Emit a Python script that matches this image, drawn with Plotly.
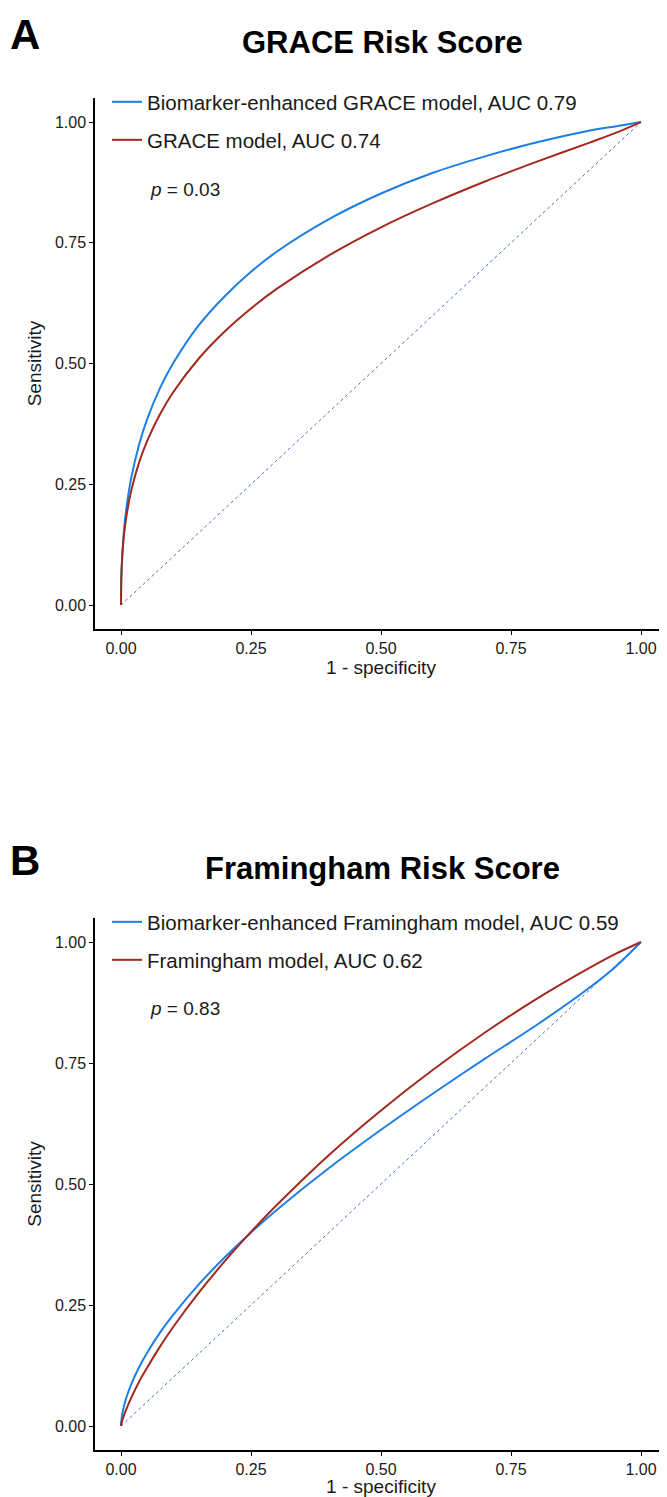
import plotly.graph_objects as go

# ---------------- data ----------------
tick_vals = [0, 0.25, 0.5, 0.75, 1.0]
tick_labels = ["0.00", "0.25", "0.50", "0.75", "1.00"]

fpr_grid = [0, 0.001, 0.005, 0.01, 0.02, 0.035, 0.05, 0.075, 0.1, 0.15, 0.2, 0.25, 0.3, 0.4, 0.5, 0.6, 0.7, 0.8, 0.9, 0.95, 1.0]

# Panel A - GRACE
grace_bio_tpr = [0, 0.07, 0.146, 0.197, 0.265, 0.333, 0.384, 0.449, 0.500, 0.580, 0.640, 0.690, 0.732, 0.799, 0.852, 0.895, 0.929, 0.958, 0.982, 0.991, 1.0]
grace_tpr = [0, 0.071, 0.137, 0.181, 0.238, 0.296, 0.339, 0.395, 0.440, 0.511, 0.567, 0.614, 0.655, 0.724, 0.782, 0.832, 0.877, 0.918, 0.957, 0.977, 1.0]

# Panel B - Framingham
fram_bio_tpr = [0, 0.014, 0.038, 0.058, 0.087, 0.122, 0.151, 0.193, 0.229, 0.293, 0.349, 0.400, 0.447, 0.533, 0.612, 0.687, 0.759, 0.829, 0.905, 0.948, 1.0]
fram_tpr = [0, 0.006, 0.020, 0.034, 0.059, 0.092, 0.120, 0.164, 0.204, 0.276, 0.341, 0.401, 0.457, 0.560, 0.652, 0.736, 0.813, 0.883, 0.946, 0.975, 1.0]

chance_line = [0, 1]

panel_titles = ["GRACE Risk Score", "Framingham Risk Score"]
panel_letters = ["A", "B"]
names_a = ["Biomarker-enhanced GRACE model, AUC 0.79", "GRACE model, AUC 0.74"]
names_b = ["Biomarker-enhanced Framingham model, AUC 0.59", "Framingham model, AUC 0.62"]
p_values = ["0.03", "0.83"]

# ---------------- styling ----------------
OFF = 8                      # default page margin of the html body
W, H = 667 - OFF, 1497 - OFF
BLUE = "#1C7FE6"
RED = "#A3291F"
DIAG = "#4A6FC0"
FONT = "Liberation Sans, Arial, sans-serif"
TXT = "#1a1a1a"


def py(p):
    return 1 - (p - OFF) / H


def px(p):
    return (p - OFF) / W


fig = go.Figure()
curve = dict(width=2, shape="spline", smoothing=0.8)

# panel A traces
fig.add_trace(go.Scatter(x=chance_line, y=chance_line, mode="lines",
                         line=dict(color=DIAG, width=1, dash="dot"),
                         showlegend=False, hoverinfo="skip", xaxis="x", yaxis="y"))
fig.add_trace(go.Scatter(x=fpr_grid, y=grace_bio_tpr, mode="lines", name=names_a[0],
                         line=dict(curve, color=BLUE), xaxis="x", yaxis="y", legend="legend"))
fig.add_trace(go.Scatter(x=fpr_grid, y=grace_tpr, mode="lines", name=names_a[1],
                         line=dict(curve, color=RED), xaxis="x", yaxis="y", legend="legend2"))

# panel B traces
fig.add_trace(go.Scatter(x=chance_line, y=chance_line, mode="lines",
                         line=dict(color=DIAG, width=1, dash="dot"),
                         showlegend=False, hoverinfo="skip", xaxis="x2", yaxis="y2"))
fig.add_trace(go.Scatter(x=fpr_grid, y=fram_bio_tpr, mode="lines", name=names_b[0],
                         line=dict(curve, color=BLUE), xaxis="x2", yaxis="y2", legend="legend3"))
fig.add_trace(go.Scatter(x=fpr_grid, y=fram_tpr, mode="lines", name=names_b[1],
                         line=dict(curve, color=RED), xaxis="x2", yaxis="y2", legend="legend4"))

axis_common = dict(
    showline=True, linecolor="black", linewidth=1.5, mirror=False,
    showgrid=False, zeroline=False, automargin=False,
    ticks="outside", ticklen=4, tickwidth=1.2, tickcolor="black",
    tickvals=tick_vals, ticktext=tick_labels,
    tickfont=dict(family=FONT, size=16, color=TXT),
    range=[-0.05, 1.05], fixedrange=True,
)

xa = dict(axis_common, domain=[px(95), 1.0],
          title=dict(text="1 - specificity", font=dict(family=FONT, size=19, color=TXT), standoff=4))
ya_title = dict(text="Sensitivity", font=dict(family=FONT, size=19, color=TXT), standoff=8)

leg_common = dict(bgcolor="rgba(0,0,0,0)", borderwidth=0,
                  font=dict(family=FONT, size=20.5, color=TXT),
                  xanchor="left", yanchor="middle", itemwidth=30)

fig.update_layout(
    width=W, height=H,
    margin=dict(l=0, r=0, t=0, b=0, autoexpand=False),
    paper_bgcolor="white", plot_bgcolor="white",
    xaxis=dict(xa, anchor="y"),
    yaxis=dict(axis_common, domain=[py(629.2), py(97.9)], anchor="x", title=ya_title),
    xaxis2=dict(xa, anchor="y2"),
    yaxis2=dict(axis_common, domain=[py(1450.2), py(917.8)], anchor="x2", title=ya_title),
    legend=dict(leg_common, x=px(107), y=py(102)),
    legend2=dict(leg_common, x=px(107), y=py(140)),
    legend3=dict(leg_common, x=px(107), y=py(922)),
    legend4=dict(leg_common, x=px(107), y=py(960)),
    showlegend=True,
)

annotations = []
for letter, title, ty, ly in [(panel_letters[0], panel_titles[0], 42, 35),
                              (panel_letters[1], panel_titles[1], 868, 860)]:
    annotations.append(dict(text="<b>" + title + "</b>", x=px(382), y=py(ty), xref="paper", yref="paper",
                            xanchor="center", yanchor="middle", showarrow=False,
                            font=dict(family=FONT, size=31, color="black")))
    annotations.append(dict(text="<b>" + letter + "</b>", x=px(8), y=py(ly), xref="paper", yref="paper",
                            xanchor="left", yanchor="middle", showarrow=False,
                            font=dict(family=FONT, size=42, color="black")))

annotations.append(dict(text="<i>p</i> = " + p_values[0], x=0.052, y=0.861, xref="x", yref="y",
                        xanchor="left", yanchor="middle", showarrow=False,
                        font=dict(family=FONT, size=19, color=TXT)))
annotations.append(dict(text="<i>p</i> = " + p_values[1], x=0.052, y=0.862, xref="x2", yref="y2",
                        xanchor="left", yanchor="middle", showarrow=False,
                        font=dict(family=FONT, size=19, color=TXT)))
fig.update_layout(annotations=annotations)

fig.write_html("out.html")
